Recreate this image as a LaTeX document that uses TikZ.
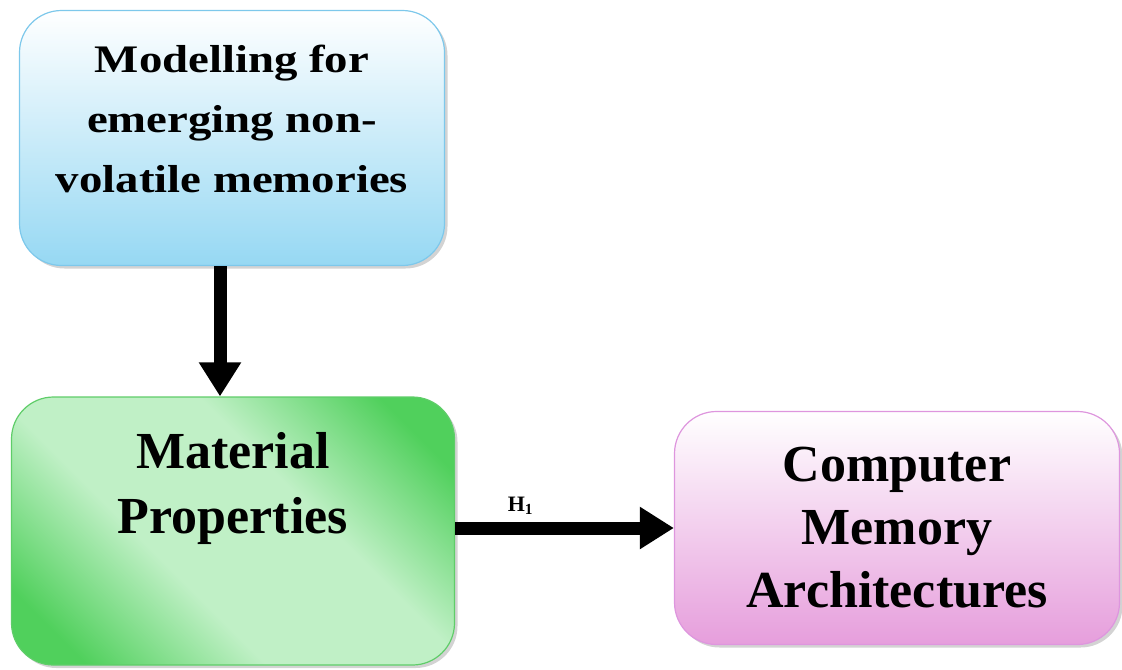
\documentclass[tikz,border=0pt]{standalone}
\usepackage{fontspec}
\setmainfont{Liberation Serif}
\newfontfamily\widefont[FakeStretch=1.2]{Liberation Serif}
\usepackage{tikz}
\usetikzlibrary{arrows.meta,positioning,shadows}
\definecolor{skyline}{RGB}{125,200,235}
\definecolor{skyfill}{RGB}{150,216,243}
\definecolor{leafline}{RGB}{95,205,105}
\definecolor{leafdark}{RGB}{80,208,92}
\definecolor{leaflight}{RGB}{192,240,198}
\definecolor{rosyline}{RGB}{222,150,222}
\definecolor{rosyfill}{RGB}{230,158,220}
\pgfdeclarehorizontalshading{leafshade}{100bp}{color(0bp)=(leafdark);
  color(22bp)=(leafdark); color(40bp)=(leaflight); color(60bp)=(leaflight);
  color(78bp)=(leafdark); color(100bp)=(leafdark)}
\tikzset{
  boxbase/.style={rounded corners=21pt, line width=0.6pt, align=center,
    drop shadow={shadow xshift=1.5pt, shadow yshift=-1.5pt, opacity=0.35}},
  bluebox/.style={boxbase, draw=skyline, top color=white, bottom color=skyfill,
    minimum width=212.5pt, minimum height=127.5pt, text depth=19pt,
    font={\widefont\bfseries\fontsize{19.5}{30}\selectfont}},
  greenbox/.style={boxbase, draw=leafline, shading=leafshade, shading angle=45,
    minimum width=221.5pt, minimum height=134pt, text depth=48pt,
    font={\bfseries\fontsize{26}{32.5}\selectfont}},
  pinkbox/.style={boxbase, draw=rosyline, top color=white, bottom color=rosyfill,
    minimum width=222.5pt, minimum height=116.5pt,
    font={\bfseries\fontsize{26}{31.5}\selectfont}},
  flow/.style={-{Triangle[length=17pt,width=20pt]}, line width=6.5pt}
}

\begin{document}
\begin{tikzpicture}[x=0.5pt, y=-0.5pt]
\useasboundingbox (0,0) rectangle (1122,669);
\node[bluebox] (model) at (232,138) {Modelling for\\emerging non-\\volatile memories};
\node[greenbox] (matl) at (233,531) {Material\\Properties};
\node[pinkbox] (arch) at (897,528) {Computer\\Memory\\Architectures};

\draw[flow] ([xshift=-6pt]model.south) -- ([xshift=-6pt]model.south |- matl.north);
\draw[flow] (matl.east |- arch.west) -- node[above, pos=0.3, font={\bfseries\fontsize{11}{13}\selectfont}] (h1) {H\textsubscript{1}} (arch.west);
\end{tikzpicture}
\end{document}
